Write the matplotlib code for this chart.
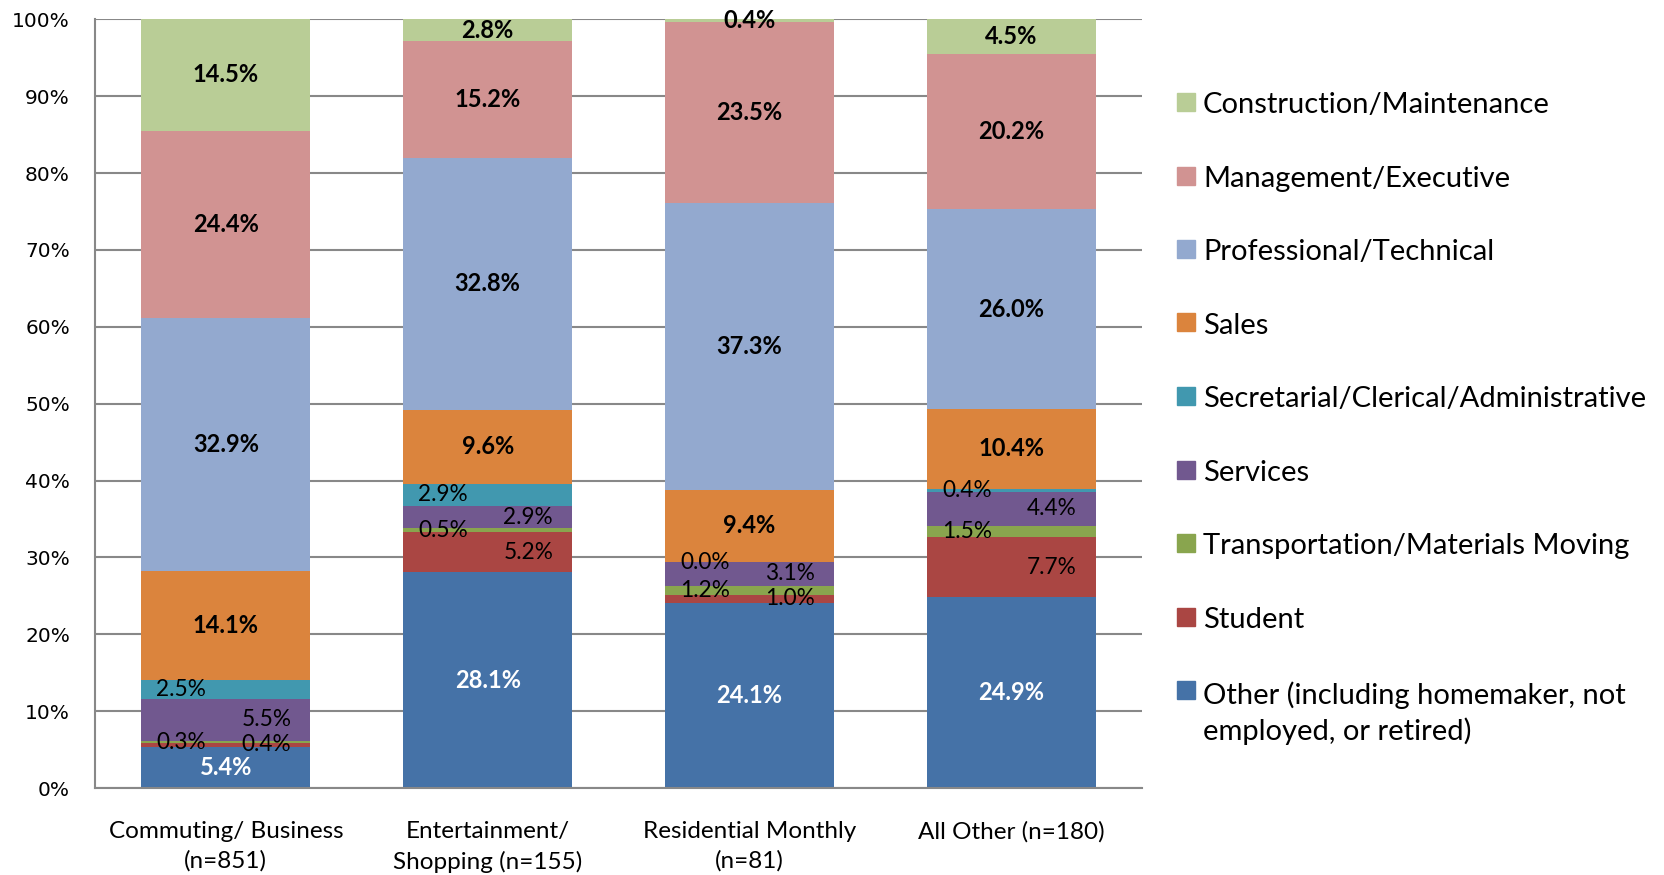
import matplotlib
matplotlib.use('Agg')
import matplotlib.pyplot as plt
from matplotlib.patches import Rectangle

categories = ['Commuting/ Business\n(n=851)', 'Entertainment/\nShopping (n=155)',
              'Residential Monthly\n(n=81)', 'All Other (n=180)']

# series from bottom to top
series = ['Other (including homemaker, not\nemployed, or retired)', 'Student',
          'Transportation/Materials Moving', 'Services',
          'Secretarial/Clerical/Administrative', 'Sales',
          'Professional/Technical', 'Management/Executive',
          'Construction/Maintenance']
other = [5.4, 28.1, 24.1, 24.9]
student = [0.4, 5.2, 1.0, 7.7]
transport = [0.3, 0.5, 1.2, 1.5]
services = [5.5, 2.9, 3.1, 4.4]
secretarial = [2.5, 2.9, 0.0, 0.4]
sales = [14.1, 9.6, 9.4, 10.4]
professional = [32.9, 32.8, 37.3, 26.0]
management = [24.4, 15.2, 23.5, 20.2]
construction = [14.5, 2.8, 0.4, 4.5]
values = [other, student, transport, services, secretarial, sales,
          professional, management, construction]
colors = ['#4572A7', '#AA4643', '#89A54E', '#71588F', '#4198AF', '#DB843D',
          '#93A9CF', '#D19392', '#B9CD96']
# label style per series: center bold / left small / right small
label_pos = ['c', 'r', 'l', 'r', 'l', 'c', 'c', 'c', 'c']

FONT = 'Lato'
fig = plt.figure(figsize=(16.65, 8.75), dpi=100)
ax = fig.add_axes([0.057, 0.0994, 0.629, 0.8786])

x = list(range(len(categories)))
bottom = [0.0] * len(categories)
for i, vals in enumerate(values):
    ax.bar(x, vals, 0.645, bottom=bottom, color=colors[i], zorder=2)
    for j, v in enumerate(vals):
        yc = bottom[j] + v / 2
        if label_pos[i] == 'c':
            ax.text(j, yc, f'{v:.1f}%', ha='center', va='center',
                    fontsize=17, fontweight='bold', family=FONT,
                    color='white' if i == 0 else 'black', zorder=3)
        else:
            dx = -0.17 if label_pos[i] == 'l' else 0.155
            ax.text(j + dx, yc, f'{v:.1f}%', ha='center', va='center',
                    fontsize=16.3, family=FONT, color='black', zorder=3)
    bottom = [b + v for b, v in zip(bottom, vals)]

ax.set_xlim(-0.5, 3.5)
ax.set_ylim(0, 100)
ax.set_yticks(range(0, 101, 10))
ax.set_yticklabels([f'{t}%' for t in range(0, 101, 10)], family='DejaVu Sans', fontsize=14.5)
ax.set_xticks(x)
ax.set_xticklabels(categories, family=FONT, fontsize=17.5, linespacing=1.45)
ax.tick_params(axis='y', length=0, pad=18)
ax.tick_params(axis='x', length=0, pad=24)
ax.yaxis.grid(True, color='#888888', linewidth=1.5, zorder=0)
ax.set_axisbelow(True)
for s in ['top', 'right']:
    ax.spines[s].set_visible(False)
for s in ['left', 'bottom']:
    ax.spines[s].set_color('#888888')
    ax.spines[s].set_linewidth(1.5)

# legend, top entry first
for k, i in enumerate(reversed(range(len(series)))):
    yf = 1 - (102 + 73.5 * k) / 875
    fig.patches.append(Rectangle((1177 / 1665, yf - 9 / 875), 18 / 1665, 18 / 875,
                                 transform=fig.transFigure, color=colors[i]))
    ty = yf - 3 / 875 - (20 / 875 if i == 0 else 0)
    fig.text(1203 / 1665, ty, series[i], ha='left', va='center',
             fontsize=21, family=FONT, linespacing=1.35,
             transform=fig.transFigure)

fig.savefig('out.png', dpi=100)
